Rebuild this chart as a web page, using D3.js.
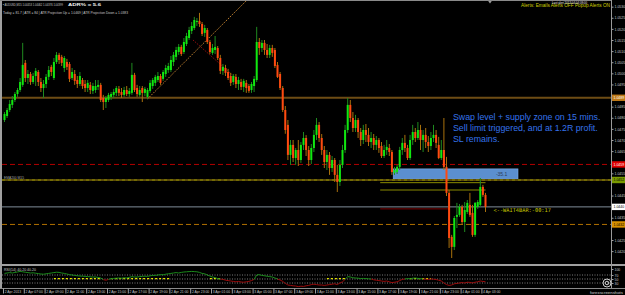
<!DOCTYPE html>
<html>
<head>
<meta charset="utf-8">
<script src="https://cdn.jsdelivr.net/npm/d3@7"></script>
<style>
  body { margin: 0; background: #000; }
  svg { display: block; font-family: "Liberation Sans", Arial, sans-serif; }
</style>
</head>
<body>
<svg id="chart" width="625" height="295"></svg>
<script>
// AUDUSD M15 candles
const open_prices = [
  1.04790,1.04808,1.04835,1.04858,1.04880,1.04907,1.04925,1.04948,1.05047,1.04979,
  1.04997,1.04961,1.04988,1.05006,1.04961,1.04934,1.04952,1.04984,1.05029,1.04979,
  1.05051,1.05083,1.05074,1.05024,1.05051,1.05042,1.04979,1.04997,1.04970,1.04952,
  1.04970,1.04952,1.04934,1.04948,1.04921,1.04925,1.04939,1.04948,1.04889,1.04871,
  1.04880,1.04894,1.04903,1.04912,1.04930,1.04916,1.04903,1.04925,1.04907,1.04912,
  1.04993,1.04934,1.04903,1.04934,1.04912,1.04894,1.04921,1.04943,1.04957,1.04970,
  1.04988,1.04975,1.04997,1.05015,1.05015,1.05051,1.05074,1.05096,1.05119,1.05096,
  1.05132,1.05159,1.05191,1.05204,1.05231,1.05236,1.05222,1.05182,1.05195,1.05141,
  1.05092,1.05105,1.05114,1.05069,1.05011,1.05024,1.05006,1.04988,1.04961,1.04984,
  1.04952,1.04961,1.04939,1.04957,1.04943,1.04925,1.04943,1.04970,1.05141,1.05114,
  1.05137,1.05105,1.05083,1.05114,1.05105,1.05038,1.04997,1.04934,1.04835,1.04768,
  1.04633,1.04678,1.04619,1.04655,1.04610,1.04678,1.04709,1.04655,1.04610,1.04664,
  1.04723,1.04768,1.04709,1.04655,1.04601,1.04633,1.04574,1.04610,1.04543,1.04511,
  1.04588,1.04655,1.04745,1.04858,1.04799,1.04754,1.04790,1.04736,1.04700,1.04745,
  1.04723,1.04691,1.04709,1.04678,1.04700,1.04673,1.04628,1.04655,1.04664,1.04646,
  1.04552,1.04556,1.04579,1.04655,1.04687,1.04664,1.04619,1.04700,1.04736,1.04709,
  1.04745,1.04700,1.04723,1.04691,1.04673,1.04709,1.04723,1.04678,1.04619,1.04655,
  1.04579,1.04462,1.04264,1.04219,1.04354,1.04363,1.04399,1.04331,1.04376,1.04408,
  1.04372,1.04273,1.04399,1.04408,1.04489,1.04453
];
const high_prices = [
  1.04826,1.04844,1.04880,1.04898,1.04916,1.04934,1.04979,1.05137,1.05060,1.05015,
  1.05006,1.05002,1.05024,1.05015,1.04979,1.04970,1.04997,1.05033,1.05038,1.05069,
  1.05096,1.05092,1.05083,1.05078,1.05065,1.05051,1.05024,1.05015,1.04988,1.05006,
  1.04979,1.04970,1.04970,1.04961,1.04957,1.04970,1.04970,1.04957,1.04903,1.04898,
  1.04912,1.04916,1.04930,1.04943,1.04943,1.04934,1.04939,1.04943,1.04934,1.05047,
  1.05002,1.04948,1.04943,1.04943,1.04939,1.04934,1.04970,1.04979,1.04993,1.05006,
  1.04997,1.05015,1.05038,1.05047,1.05078,1.05096,1.05119,1.05132,1.05128,1.05159,
  1.05182,1.05209,1.05231,1.05254,1.05249,1.05272,1.05231,1.05218,1.05204,1.05150,
  1.05132,1.05168,1.05123,1.05083,1.05042,1.05038,1.05020,1.05002,1.04997,1.04997,
  1.04984,1.04975,1.04975,1.04970,1.04952,1.04961,1.04988,1.05209,1.05159,1.05150,
  1.05150,1.05132,1.05128,1.05128,1.05114,1.05051,1.05006,1.04943,1.04853,1.04790,
  1.04700,1.04700,1.04664,1.04700,1.04691,1.04736,1.04722,1.04673,1.04682,1.04745,
  1.04799,1.04781,1.04727,1.04673,1.04655,1.04646,1.04628,1.04619,1.04588,1.04610,
  1.04678,1.04768,1.04889,1.04880,1.04826,1.04813,1.04799,1.04754,1.04768,1.04772,
  1.04754,1.04736,1.04727,1.04718,1.04709,1.04691,1.04678,1.04700,1.04682,1.04655,
  1.04579,1.04588,1.04669,1.04709,1.04723,1.04678,1.04723,1.04768,1.04754,1.04781,
  1.04768,1.04745,1.04754,1.04718,1.04736,1.04768,1.04745,1.04714,1.04700,1.04799,
  1.04624,1.04475,1.04273,1.04358,1.04417,1.04412,1.04408,1.04421,1.04430,1.04462,
  1.04408,1.04421,1.04430,1.04529,1.04498,1.04462
];
const low_prices = [
  1.04781,1.04799,1.04826,1.04844,1.04871,1.04894,1.04916,1.04939,1.04961,1.04952,
  1.04948,1.04952,1.04943,1.04943,1.04916,1.04889,1.04934,1.04970,1.04988,1.04970,
  1.05042,1.05042,1.05033,1.05006,1.05015,1.04961,1.04970,1.04948,1.04934,1.04943,
  1.04930,1.04916,1.04916,1.04907,1.04907,1.04912,1.04925,1.04871,1.04835,1.04844,
  1.04871,1.04880,1.04889,1.04898,1.04898,1.04889,1.04894,1.04898,1.04894,1.04903,
  1.04916,1.04894,1.04894,1.04871,1.04898,1.04885,1.04912,1.04930,1.04943,1.04961,
  1.04948,1.04966,1.04984,1.05002,1.05006,1.05033,1.05060,1.05083,1.05078,1.05087,
  1.05123,1.05150,1.05177,1.05195,1.05213,1.05209,1.05168,1.05164,1.05132,1.05087,
  1.05083,1.05087,1.05060,1.04997,1.04993,1.04988,1.04970,1.04943,1.04948,1.04934,
  1.04925,1.04925,1.04916,1.04912,1.04912,1.04912,1.04916,1.04961,1.05083,1.05096,
  1.05083,1.05069,1.05069,1.05074,1.05024,1.04979,1.04925,1.04826,1.04728,1.04610,
  1.04588,1.04601,1.04588,1.04583,1.04597,1.04655,1.04628,1.04583,1.04592,1.04646,
  1.04700,1.04691,1.04633,1.04574,1.04565,1.04543,1.04556,1.04511,1.04466,1.04493,
  1.04574,1.04642,1.04732,1.04781,1.04736,1.04736,1.04709,1.04673,1.04682,1.04691,
  1.04673,1.04664,1.04655,1.04655,1.04642,1.04619,1.04619,1.04633,1.04628,1.04543,
  1.04543,1.04547,1.04565,1.04633,1.04646,1.04610,1.04610,1.04678,1.04691,1.04700,
  1.04655,1.04646,1.04664,1.04646,1.04655,1.04691,1.04664,1.04614,1.04610,1.04565,
  1.04448,1.04214,1.04169,1.04205,1.04304,1.04354,1.04322,1.04286,1.04367,1.04354,
  1.04264,1.04264,1.04390,1.04399,1.04444,1.04376
];
const close_prices = [
  1.04817,1.04835,1.04862,1.04880,1.04907,1.04925,1.04961,1.05038,1.04979,1.04997,
  1.04961,1.04988,1.05011,1.04961,1.04934,1.04952,1.04984,1.05015,1.05006,1.05051,
  1.05083,1.05060,1.05047,1.05069,1.05029,1.04975,1.05006,1.04966,1.04952,1.04988,
  1.04943,1.04934,1.04957,1.04925,1.04943,1.04943,1.04948,1.04880,1.04871,1.04889,
  1.04903,1.04907,1.04916,1.04934,1.04912,1.04903,1.04925,1.04907,1.04921,1.04993,
  1.04925,1.04907,1.04925,1.04912,1.04930,1.04925,1.04957,1.04970,1.04984,1.04988,
  1.04957,1.05006,1.05024,1.05033,1.05060,1.05083,1.05105,1.05119,1.05087,1.05141,
  1.05168,1.05195,1.05213,1.05240,1.05236,1.05222,1.05177,1.05204,1.05141,1.05096,
  1.05114,1.05119,1.05069,1.05011,1.05029,1.05002,1.04979,1.04957,1.04988,1.04952,
  1.04970,1.04939,1.04966,1.04934,1.04921,1.04952,1.04975,1.05141,1.05114,1.05137,
  1.05105,1.05083,1.05114,1.05092,1.05033,1.04984,1.04934,1.04835,1.04745,1.04633,
  1.04678,1.04619,1.04655,1.04610,1.04678,1.04709,1.04655,1.04610,1.04664,1.04723,
  1.04768,1.04709,1.04655,1.04601,1.04633,1.04574,1.04610,1.04543,1.04511,1.04588,
  1.04655,1.04745,1.04858,1.04799,1.04754,1.04790,1.04736,1.04700,1.04745,1.04723,
  1.04691,1.04709,1.04678,1.04700,1.04664,1.04628,1.04655,1.04669,1.04646,1.04556,
  1.04565,1.04579,1.04655,1.04687,1.04664,1.04619,1.04700,1.04736,1.04709,1.04745,
  1.04700,1.04723,1.04691,1.04673,1.04709,1.04723,1.04687,1.04619,1.04655,1.04579,
  1.04462,1.04259,1.04219,1.04349,1.04363,1.04399,1.04331,1.04385,1.04417,1.04363,
  1.04273,1.04417,1.04421,1.04489,1.04453,1.04399
];

// oscillator in the lower window, one value per bar
const rsi_values = [
  78,80,82,80,83,85,88,86,84,82,80,81,79,77,75,74,76,78,80,82,84,
  83,80,78,75,72,70,68,66,65,64,63,62,61,60,60,58,55,
  47,44,48,52,53,54,55,54,56,55,58,62,60,
  60,62,63,64,63,66,68,68,70,72,71,74,76,78,80,82,80,83,85,86,87,88,
  87,86,83,78,76,70,65,60,57,52,50,48,
  44,42,40,38,36,38,35,34,36,38,42,48,70,72,68,66,64,62,60,55,
  50,45,38,28,20,18,16,15,12,14,13,16,18,22,24,22,20,20,18,
  20,22,24,26,22,30,36,48,62,60,56,55,54,52,53,52,51,50,
  46,44,42,40,38,40,36,32,34,36,42,48,50,52,51,54,55,
  53,52,50,49,48,50,49,47,44,40,30,22,18,20,26,
  28,30,32,30,34,33,30,34,36,40,38,36
];
const rsi_levels = [70, 50, 30];
const signal_ranges = [[19, 37], [41, 64], [79, 83], [124, 131], [156, 164]];

// horizontal levels and objects
const resistance_price = 1.04890;
const sell_price = 1.04590;
const ema_price = 1.04520;
const support_price = 1.04320;
const zone_bars = [149.5, 197.5];
const zone_prices = [1.04570, 1.04525];
const zone_label = '-35.1';
const target_prices = [1.04508, 1.04475];
const target_bars = [144.5, 185];
const stop_price = 1.04390;
const stop_bars = [144.5, 171];
const trend_up = [[55, 1.04885], [93.3, 1.05330]];
const trend_down = [[72.5, 1.05150], [88.5, 1.04984]];

const price_ticks = [
  1.0530, 1.0525, 1.0520, 1.0515, 1.0510, 1.0505, 1.0500, 1.0495, 1.0490, 1.0485, 1.0480, 1.0475,
  1.0470, 1.0465, 1.0460, 1.0455, 1.0450, 1.0445, 1.0440, 1.0435, 1.0430, 1.0425, 1.0420
];
const time_label_bars = [0, 8, 16, 24, 32, 40, 48, 56, 64, 72, 80, 88, 96, 104, 112, 120, 128, 136, 144, 152, 160, 168, 176, 184];
const time_labels = [
  '2 Apr 2013', '2 Apr 07:00', '2 Apr 09:00', '2 Apr 11:00', '2 Apr 13:00', '2 Apr 15:00',
  '2 Apr 17:00', '2 Apr 19:00', '2 Apr 21:00', '2 Apr 23:00', '3 Apr 01:00', '3 Apr 03:00',
  '3 Apr 05:00', '3 Apr 07:00', '3 Apr 09:00', '3 Apr 11:00', '3 Apr 13:00', '3 Apr 15:00',
  '3 Apr 17:00', '3 Apr 19:00', '3 Apr 21:00', '3 Apr 23:00', '4 Apr 01:00', '4 Apr 03:00'
];

const note_lines = [
  'Swap level + supply zone on 15 mins.',
  'Sell limit triggered, and at 1.2R profit.',
  'SL remains.'
];
const header_line1 = '\u25AA AUDUSD,M15  1.04453 1.04462 1.04376 1.04399';
const header_bold = 'ADR% = 5.6';
const header_line2 = 'Today = 81.7  |  ATR = 84  |  ATR Projection Up = 1.0469  |  ATR Projection Down = 1.0383';
const alert_text = 'Alerts:   Emails Alerts OFF   Popup Alerts ON';
const alert_overlay = 'Last alert 2013.04.04 08:00';
const timer_text = '<--WAIT4BAR:-00:17';
const rsi_caption = 'RSI(14) 40.20 40.20';

// *************************************************
// Layout
// *************************************************
const svg = d3.select('#chart');
const main_left = 2, main_right = 611, main_top = 1, main_bottom = 264;
const sub_top = 266, sub_bottom = 288;
const last_bar = close_prices.length - 1;
const price_fmt = d3.format('.4f');

const x = d3.scaleLinear().domain([0, 185]).range([4.5, 485.5]);
const y = d3.scaleLinear().domain([1.05330, 1.04160]).range([0, 260]);
const y_sub = d3.scaleLinear().domain([0, 100]).range([289, 269]);

svg.append('rect').attr('width', 625).attr('height', 295).attr('fill', '#000');

svg.append('defs').append('clipPath').attr('id', 'main-clip')
    .append('rect')
    .attr('x', main_left).attr('y', main_top)
    .attr('width', main_right - main_left).attr('height', main_bottom - main_top);

const main_g = svg.append('g').attr('clip-path', 'url(#main-clip)');

// supply zone
main_g.append('rect')
    .attr('x', x(zone_bars[0]))
    .attr('y', y(zone_prices[0]))
    .attr('width', x(zone_bars[1]) - x(zone_bars[0]))
    .attr('height', y(zone_prices[1]) - y(zone_prices[0]))
    .attr('fill', '#5b8fcf')
    .attr('stroke', '#7fb0ea')
    .attr('stroke-width', 0.6);

main_g.append('text')
    .attr('x', x(189))
    .attr('y', y((zone_prices[0] + zone_prices[1]) / 2) + 1.8)
    .attr('font-size', 5)
    .attr('fill', '#2c3c58')
    .text(zone_label);

// full width levels
function h_line(price, color, width, dash) {
    main_g.append('line')
        .attr('x1', main_left).attr('x2', main_right)
        .attr('y1', y(price)).attr('y2', y(price))
        .attr('stroke', color)
        .attr('stroke-width', width)
        .attr('stroke-dasharray', dash);
}
h_line(resistance_price, '#6e4c14', 2, null);
h_line(sell_price, '#b00000', 1, '5,3');
h_line(ema_price, '#5a4a08', 2, null);
h_line(ema_price, '#8a8a00', 1, '3,3');
h_line(close_prices[last_bar], '#7f8c98', 1, null);
h_line(support_price, '#b07000', 1, '5,3');

// trade levels
target_prices.forEach(p => {
    main_g.append('line')
        .attr('x1', x(target_bars[0])).attr('x2', x(target_bars[1]))
        .attr('y1', y(p)).attr('y2', y(p))
        .attr('stroke', '#8a8a00').attr('stroke-width', 1);
});
main_g.append('line')
    .attr('x1', x(stop_bars[0])).attr('x2', x(stop_bars[1]))
    .attr('y1', y(stop_price)).attr('y2', y(stop_price))
    .attr('stroke', '#7a0000').attr('stroke-width', 1);

// trendlines (up one runs as a ray off the top)
const up_slope = (trend_up[1][1] - trend_up[0][1]) / (trend_up[1][0] - trend_up[0][0]);
main_g.append('line')
    .attr('x1', x(trend_up[0][0])).attr('y1', y(trend_up[0][1]))
    .attr('x2', x(trend_up[0][0] + 60)).attr('y2', y(trend_up[0][1] + up_slope * 60))
    .attr('stroke', '#c08030').attr('stroke-width', 1).attr('stroke-dasharray', '1.5,1.2');
main_g.append('line')
    .attr('x1', x(trend_down[0][0])).attr('y1', y(trend_down[0][1]))
    .attr('x2', x(trend_down[1][0])).attr('y2', y(trend_down[1][1]))
    .attr('stroke', '#8a1010').attr('stroke-width', 1).attr('stroke-dasharray', '1.5,1.2');

// candles
const bars = open_prices.map((o, i) => ({
    i: i, o: o, h: high_prices[i], l: low_prices[i], c: close_prices[i],
    up: close_prices[i] >= o
}));

const candle_g = main_g.append('g');
candle_g.selectAll('line')
    .data(bars)
    .join('line')
    .attr('x1', d => x(d.i)).attr('x2', d => x(d.i))
    .attr('y1', d => y(d.h)).attr('y2', d => y(d.l))
    .attr('stroke', d => d.up ? '#1f8a1f' : '#a8700c')
    .attr('stroke-width', 1);

candle_g.selectAll('rect')
    .data(bars)
    .join('rect')
    .attr('x', d => x(d.i) - 1)
    .attr('width', 2)
    .attr('y', d => y(Math.max(d.o, d.c)))
    .attr('height', d => Math.max(1, Math.abs(y(d.o) - y(d.c))))
    .attr('fill', d => d.up ? '#10e810' : '#ff4a10');

// annotations
main_g.append('text')
    .attr('x', x(last_bar) + 8)
    .attr('y', y(close_prices[last_bar]) + 5.5)
    .attr('font-family', 'DejaVu Sans Mono, monospace')
    .attr('font-size', 5.3)
    .attr('fill', '#c8c800')
    .text(timer_text);

main_g.append('text')
    .attr('x', 4).attr('y', y(ema_price) - 1.5)
    .attr('font-size', 4)
    .attr('fill', '#a8a8a8')
    .attr('textLength', 20).attr('lengthAdjust', 'spacingAndGlyphs')
    .text('EMA200 M15');

const note = main_g.append('text')
    .attr('font-size', 8.8)
    .attr('fill', '#3573ea');
note.selectAll('tspan')
    .data(note_lines)
    .join('tspan')
    .attr('x', x(172.5))
    .attr('y', (d, i) => y(1.04790) + i * 11)
    .text(d => d);

// header texts
svg.append('text').attr('x', 3).attr('y', 5.5)
    .attr('font-size', 4).attr('fill', '#c8c8c8')
    .attr('textLength', 60).attr('lengthAdjust', 'spacingAndGlyphs')
    .text(header_line1);
svg.append('text').attr('x', 68).attr('y', 5.5)
    .attr('font-size', 4.2).attr('font-weight', 'bold').attr('fill', '#f0f0f0')
    .attr('textLength', 33).attr('lengthAdjust', 'spacingAndGlyphs')
    .text(header_bold);
svg.append('text').attr('x', 3).attr('y', 14)
    .attr('font-size', 4).attr('fill', '#c8c8c8')
    .attr('textLength', 125).attr('lengthAdjust', 'spacingAndGlyphs')
    .text(header_line2);
svg.append('text').attr('x', 521).attr('y', 6.8)
    .attr('font-size', 4.5).attr('fill', '#d0d000')
    .attr('textLength', 89).attr('lengthAdjust', 'spacingAndGlyphs')
    .text(alert_text);
svg.append('text').attr('x', 552).attr('y', 3.8)
    .attr('font-size', 3.6).attr('fill', '#e8e8e8')
    .attr('textLength', 35).attr('lengthAdjust', 'spacingAndGlyphs')
    .text(alert_overlay);

// chart shift marker
svg.append('path')
    .attr('d', 'M' + (x(last_bar) + 2) + ',0 l2.5,3.5 l2.5,-3.5 z')
    .attr('fill', '#9a9a9a');

// *************************************************
// Lower window
// *************************************************
const sub_g = svg.append('g');

sub_g.selectAll('line.level')
    .data(rsi_levels)
    .join('line')
    .attr('class', 'level')
    .attr('x1', main_left).attr('x2', main_right)
    .attr('y1', d => y_sub(d)).attr('y2', d => y_sub(d))
    .attr('stroke', '#9a9a9a').attr('stroke-width', 0.8)
    .attr('stroke-dasharray', '1,1.5');

sub_g.selectAll('line.signal')
    .data(signal_ranges)
    .join('line')
    .attr('class', 'signal')
    .attr('x1', d => x(d[0])).attr('x2', d => x(d[1]))
    .attr('y1', y_sub(50) - 0.4).attr('y2', y_sub(50) - 0.4)
    .attr('stroke', '#e6e600').attr('stroke-width', 1.2)
    .attr('stroke-dasharray', '2,2');

const rsi_segments = d3.pairs(rsi_values.map((v, i) => [i, v]));
sub_g.selectAll('line.rsi')
    .data(rsi_segments)
    .join('line')
    .attr('class', 'rsi')
    .attr('x1', d => x(d[0][0])).attr('y1', d => y_sub(d[0][1]))
    .attr('x2', d => x(d[1][0])).attr('y2', d => y_sub(d[1][1]))
    .attr('stroke', d => (d[0][1] + d[1][1]) / 2 >= 50 ? '#1c8c1c' : '#9c0c0c')
    .attr('stroke-width', 1);

sub_g.append('text').attr('x', 4).attr('y', 270.5)
    .attr('font-size', 4).attr('fill', '#c8c8c8')
    .attr('textLength', 32).attr('lengthAdjust', 'spacingAndGlyphs')
    .text(rsi_caption);

// *************************************************
// Frames and axes
// *************************************************
svg.append('rect').attr('x', 0).attr('y', 0).attr('width', 2).attr('height', sub_bottom).attr('fill', '#a0a0a0');
svg.append('line').attr('x1', 0).attr('x2', main_right).attr('y1', 0.5).attr('y2', 0.5).attr('stroke', '#8a8a8a');
svg.append('rect').attr('x', 0).attr('y', main_bottom).attr('width', 625).attr('height', 2).attr('fill', '#a0a0a0');
svg.append('line').attr('x1', 0).attr('x2', 625).attr('y1', sub_bottom + 0.5).attr('y2', sub_bottom + 0.5).attr('stroke', '#8a8a8a');
svg.append('line').attr('x1', main_right + 0.5).attr('x2', main_right + 0.5).attr('y1', 0).attr('y2', sub_bottom)
    .attr('stroke', '#9a9a9a');

// coloured price tags on the axis; plain labels under them are left out
const tag_prices = [resistance_price, sell_price, ema_price, close_prices[last_bar], support_price];
const tag_fill = ['#c07a18', '#e00000', '#7a9a00', '#ffffff', '#d89000'];
const tag_text = ['#ffffff', '#ffffff', '#000000', '#000000', '#000000'];

const free_ticks = price_ticks.filter(t => tag_prices.every(p => Math.abs(y(p) - y(t)) > 6));
const price_axis = svg.append('g')
    .attr('transform', 'translate(' + (main_right + 0.5) + ',0)')
    .call(d3.axisRight(y).tickValues(free_ticks).tickFormat(price_fmt).tickSize(2).tickPadding(1));
price_axis.select('.domain').remove();
price_axis.selectAll('line').attr('stroke', '#a0a0a0');
price_axis.selectAll('text').attr('fill', '#c8c8c8').attr('font-size', 3.5).attr('font-family', 'Liberation Sans, Arial');

tag_prices.forEach((p, i) => {
    svg.append('rect')
        .attr('x', main_right + 1).attr('y', y(p) - 3.2)
        .attr('width', 14).attr('height', 6.4)
        .attr('fill', tag_fill[i]);
    svg.append('text')
        .attr('x', main_right + 2.5).attr('y', y(p) + 1.3)
        .attr('font-size', 3.5).attr('fill', tag_text[i])
        .text(price_fmt(p));
});

// lower window scale
const sub_axis = svg.append('g')
    .attr('transform', 'translate(' + (main_right + 0.5) + ',0)')
    .call(d3.axisRight(y_sub).tickValues([100].concat(rsi_levels)).tickSize(2).tickPadding(1));
sub_axis.select('.domain').remove();
sub_axis.selectAll('line').attr('stroke', '#a0a0a0');
sub_axis.selectAll('text').attr('fill', '#c8c8c8').attr('font-size', 3.4);

const time_axis = svg.append('g')
    .attr('transform', 'translate(-1.5,' + (sub_bottom + 0.5) + ')')
    .call(d3.axisBottom(x).tickValues(time_label_bars).tickFormat((d, i) => time_labels[i]).tickSize(5).tickPadding(-2.5));
time_axis.select('.domain').remove();
time_axis.selectAll('line').attr('stroke', '#a0a0a0');
time_axis.selectAll('text')
    .attr('text-anchor', 'start')
    .attr('x', 1.2)
    .attr('fill', '#c8c8c8')
    .attr('font-size', 3.4)
    .attr('font-family', 'Liberation Sans, Arial');

// watermark
const mark = svg.append('g').attr('fill', 'none').attr('stroke', '#d0d0d0').attr('stroke-width', 1);
mark.append('circle').attr('cx', 607).attr('cy', 283).attr('r', 4);
mark.append('circle').attr('cx', 607).attr('cy', 283).attr('r', 1.8);
svg.append('text').attr('x', 590).attr('y', 293.5)
    .attr('font-size', 4).attr('fill', '#d0d0d0')
    .attr('textLength', 33).attr('lengthAdjust', 'spacingAndGlyphs')
    .text('forexscreenshots');
</script>
</body>
</html>
